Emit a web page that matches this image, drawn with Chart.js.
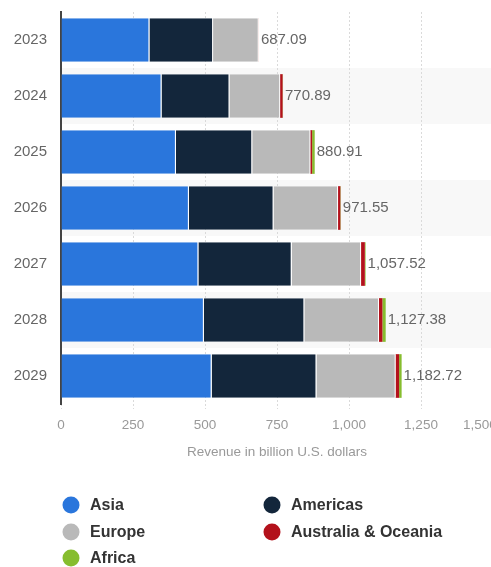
<!DOCTYPE html>
<html>
<head>
<meta charset="utf-8">
<script src="https://cdn.jsdelivr.net/npm/chart.js@4"></script>
<style>
  html, body { margin: 0; padding: 0; background: #fff; overflow: hidden; }
  #wrap { width: 520px; height: 567px; }
</style>
</head>
<body>
<div id="wrap"><canvas id="grafico" width="520" height="567"></canvas></div>
<script>
// Años y valores por región (billion U.S. dollars)
const years = ['2023', '2024', '2025', '2026', '2027', '2028', '2029'];
const asia      = [307, 349, 399, 444, 477, 496, 523];
const americas  = [221, 236, 265, 294, 324, 349, 364];
const europe    = [158.5, 176, 202, 224, 241, 259, 275];
const australia = [0.5, 8.5, 6, 8, 13, 12, 12];
const africa    = [0.09, 1.39, 8.91, 1.55, 2.52, 11.38, 8.72];
const totals    = [687.09, 770.89, 880.91, 971.55, 1057.52, 1127.38, 1182.72];
const xTicks    = [0, 250, 500, 750, 1000, 1250, 1500];

const FONT = "'Liberation Sans', Arial, sans-serif";
const fmt = v => v.toLocaleString('en-US');

// Bandas alternas de fondo
const bandas = {
  id: 'bandas',
  beforeDraw(chart) {
    const { ctx, chartArea, scales: { y } } = chart;
    const paso = y.getPixelForValue(1) - y.getPixelForValue(0);
    ctx.save();
    ctx.fillStyle = '#f8f8f8';
    years.forEach((_, i) => {
      if (i % 2 === 1) {
        const c = y.getPixelForValue(i);
        ctx.fillRect(chartArea.left, c - paso / 2, chart.width - chartArea.left, paso);
      }
    });
    ctx.restore();
  }
};

// Etiquetas de total al final de cada barra + última etiqueta del eje x
const totales = {
  id: 'totales',
  afterDatasetsDraw(chart) {
    const { ctx, scales: { x, y } } = chart;
    ctx.save();
    ctx.font = '15px ' + FONT;
    ctx.fillStyle = '#666';
    ctx.textAlign = 'left';
    ctx.textBaseline = 'middle';
    totals.forEach((t, i) => {
      const txt = t.toLocaleString('en-US', { minimumFractionDigits: 2 });
      ctx.fillText(txt, x.getPixelForValue(t) + 2, y.getPixelForValue(i));
    });
    // la etiqueta 1,500 va recortada contra el borde
    const last = xTicks[xTicks.length - 1];
    ctx.font = '13.5px ' + FONT;
    ctx.fillStyle = '#999';
    ctx.textBaseline = 'top';
    ctx.fillText(fmt(last), 463, x.top + 15);
    ctx.restore();
  }
};

// Leyenda en dos columnas
const leyenda = {
  id: 'leyenda',
  afterDraw(chart) {
    const { ctx } = chart;
    const colX = [71, 272];
    const rowY = [505, 532, 558];
    ctx.save();
    ctx.font = 'bold 16px ' + FONT;
    ctx.textBaseline = 'middle';
    ctx.textAlign = 'left';
    chart.data.datasets.forEach((ds, i) => {
      const cx = colX[i % 2];
      const cy = rowY[Math.floor(i / 2)];
      ctx.fillStyle = ds.backgroundColor;
      ctx.beginPath();
      ctx.arc(cx, cy, 8.5, 0, Math.PI * 2);
      ctx.fill();
      ctx.fillStyle = '#333';
      ctx.fillText(ds.label, cx + 19, cy + 1);
    });
    ctx.restore();
  }
};

const sep = { top: 0, bottom: 0, left: 0, right: 1 };

new Chart(document.getElementById('grafico'), {
  type: 'bar',
  data: {
    labels: years,
    datasets: [
      { label: 'Asia', data: asia, backgroundColor: '#2a76dc', borderColor: '#fff', borderWidth: sep },
      { label: 'Americas', data: americas, backgroundColor: '#13263b', borderColor: '#fff', borderWidth: sep },
      { label: 'Europe', data: europe, backgroundColor: '#b9b9b9', borderColor: '#fff', borderWidth: sep },
      { label: 'Australia & Oceania', data: australia, backgroundColor: '#b3111b', borderWidth: 0 },
      { label: 'Africa', data: africa, backgroundColor: '#86bd2e', borderWidth: 0 }
    ]
  },
  options: {
    indexAxis: 'y',
    responsive: false,
    animation: false,
    categoryPercentage: 0.78,
    barPercentage: 1,
    layout: { padding: { top: 12, right: 27, bottom: 103, left: 0 } },
    plugins: {
      legend: { display: false },
      tooltip: { enabled: false }
    },
    scales: {
      x: {
        stacked: true,
        min: 0,
        max: 1500,
        afterBuildTicks: s => { s.ticks = xTicks.map(v => ({ value: v })); },
        afterFit: s => { s.height = 60; },
        ticks: {
          padding: 8,
          color: '#999',
          font: { family: FONT, size: 13.5 },
          maxRotation: 0,
          callback: v => v === xTicks[xTicks.length - 1] ? '' : fmt(v)
        },
        grid: {
          color: ctx => ctx.tick && ctx.tick.value === 0 ? 'rgba(0,0,0,0)' : '#dadada',
          tickColor: '#dadada',
          tickLength: 5,
          tickBorderDash: [2, 2]
        },
        border: { display: false, dash: [2, 2] },
        title: {
          display: true,
          text: 'Revenue in billion U.S. dollars',
          color: '#999',
          font: { family: FONT, size: 13.5 },
          padding: { top: 4, bottom: 4 }
        }
      },
      y: {
        stacked: true,
        afterFit: s => { s.width = 61; s.paddingTop = 0; s.paddingBottom = 0; },
        ticks: {
          padding: 14,
          color: '#666',
          font: { family: FONT, size: 15 }
        },
        grid: { display: false, drawTicks: false },
        border: { display: true, color: '#444', width: 2 }
      }
    }
  },
  plugins: [bandas, totales, leyenda]
});
</script>
</body>
</html>
